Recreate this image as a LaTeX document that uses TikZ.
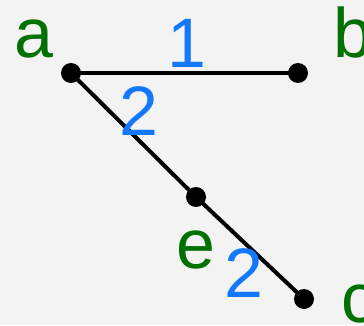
\documentclass[tikz,border=0pt]{standalone}
\usepackage{fontspec}
\setmainfont{Liberation Sans}
\definecolor{bg}{RGB}{243,243,243}
\definecolor{lblgreen}{RGB}{0,112,0}
\definecolor{lblblue}{RGB}{20,120,255}
\begin{document}
\begin{tikzpicture}[x=1pt,y=1pt,
  vertex/.style={circle,fill=black,inner sep=0pt,minimum size=20pt},
  edge/.style={line width=4pt,black},
  vlabel/.style={text=lblgreen,inner sep=0pt,anchor=base,font=\fontsize{70}{84}\selectfont},
  wlabel/.style={text=lblblue,inner sep=0pt,anchor=base,font=\fontsize{70}{84}\selectfont}]
\fill[bg] (0,0) rectangle (364,325);
\useasboundingbox (0,0) rectangle (364,325);
\node[vertex] (a) at (71,252) {};
\node[vertex] (b) at (298,252) {};
\node[vertex] (e) at (196,128) {};
\node[vertex] (c) at (304,26) {};
\draw[edge] (a.center) -- (b.center);
\draw[edge] (a.center) -- (e.center);
\draw[edge] (e.center) -- (c.center);
\node[vlabel] (la) at (34,268) {a};
\node[vlabel] (lb) at (353,268) {b};
\node[vlabel] (le) at (196,57) {e};
\node[vlabel] (lc) at (359,3) {c};
\node[wlabel] (w1) at (187,258) {1};
\node[wlabel] (w2) at (139,190) {2};
\node[wlabel] (w3) at (244,28) {2};
\end{tikzpicture}
\end{document}
